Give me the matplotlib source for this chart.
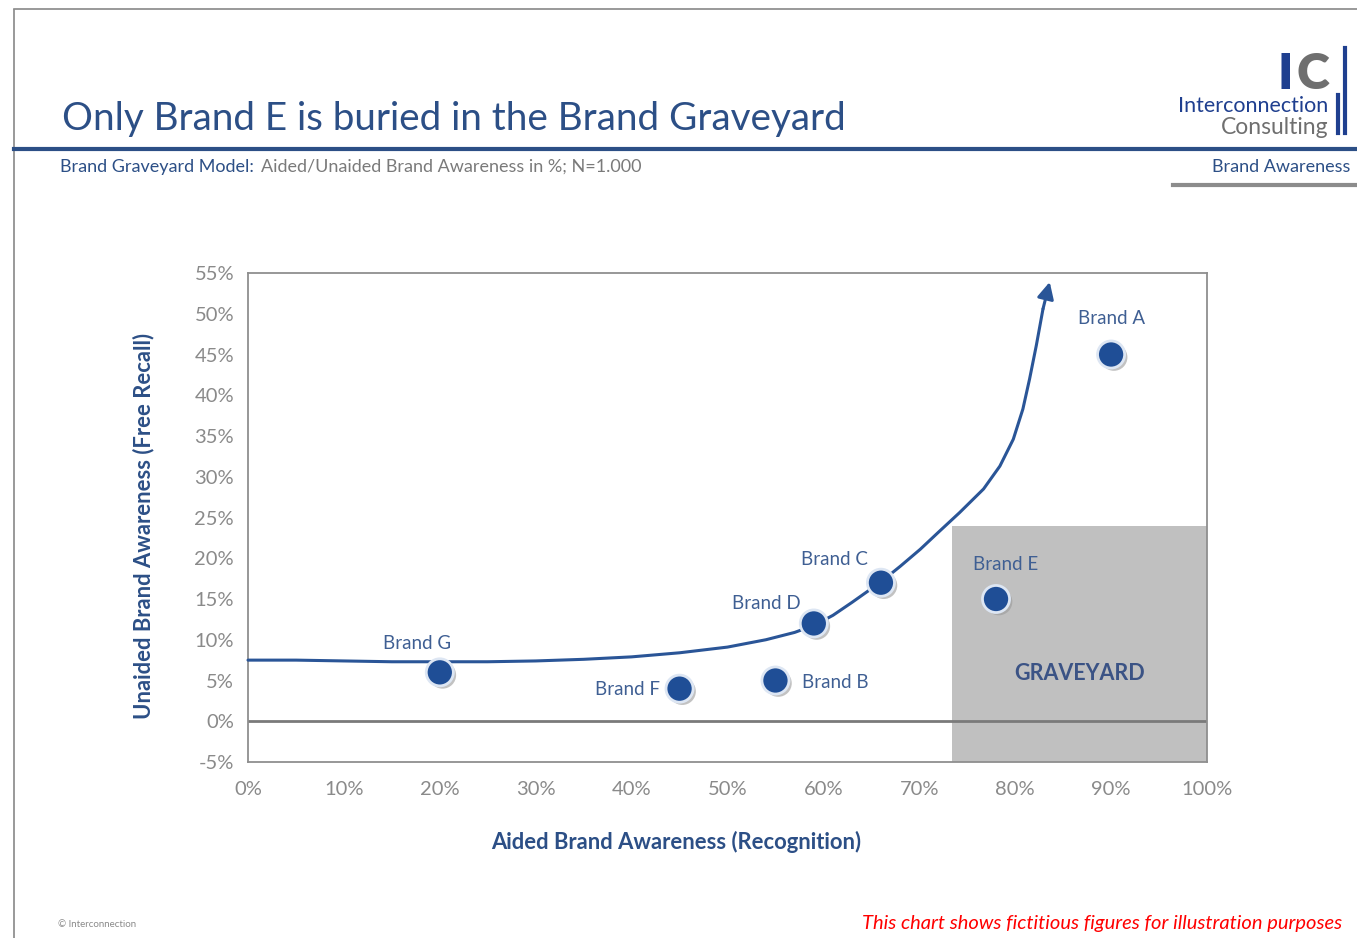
import matplotlib
matplotlib.use("Agg")
import matplotlib.pyplot as plt
import matplotlib.patheffects as pe
from matplotlib.patches import Rectangle
from matplotlib.lines import Line2D

plt.rcParams['font.family'] = ['Lato', 'DejaVu Sans']

# ---- data ----
brands = ["Brand A", "Brand B", "Brand C", "Brand D", "Brand E", "Brand F", "Brand G"]
aided = [90, 55, 66, 59, 78, 45, 20]          # % recognition
unaided = [45, 5, 17, 12, 15, 4, 6]           # % free recall
label_pos = {  # label anchor (x, y, ha)
    "Brand A": (90, 49.4, "center"),
    "Brand B": (57.8, 4.7, "left"),
    "Brand C": (61.2, 19.8, "center"),
    "Brand D": (54.0, 14.4, "center"),
    "Brand E": (79.0, 19.2, "center"),
    "Brand F": (43.0, 3.9, "right"),
    "Brand G": (17.6, 9.5, "center"),
}
curve_x = [0, 5, 10, 15, 20, 25, 30, 35, 40, 45, 50, 54, 57, 59.1, 61, 63, 66, 68,
           70.1, 72, 74.2, 76.7, 78.4, 79.8, 80.8, 81.5, 82.2, 82.9, 83.6]
curve_y = [7.5, 7.5, 7.4, 7.3, 7.3, 7.3, 7.4, 7.6, 7.9, 8.4, 9.1, 10.0, 10.9, 11.8, 13.0,
           14.6, 17.1, 19.0, 21.1, 23.2, 25.6, 28.5, 31.3, 34.6, 38.3, 42.0, 46.1, 50.6, 53.9]
graveyard_x = (73.4, 100)
graveyard_y = (-5, 24)
xticks = list(range(0, 101, 10))
yticks = list(range(-5, 56, 5))

BLUE = "#1f4e96"
TBLUE = "#2c4f86"
LBLUE = "#3f5f93"

W, H = 1357, 938
fig = plt.figure(figsize=(W / 100, H / 100), dpi=100)

def fx(px):
    return px / W

def fy(py):
    return 1 - py / H

# ---- page decoration ----
fig.add_artist(Line2D([fx(14), fx(14)], [fy(10), fy(938)], color="#888888", lw=1.2))
fig.add_artist(Line2D([fx(14), fx(1357)], [fy(9), fy(9)], color="#888888", lw=1.2))
fig.add_artist(Line2D([fx(14), fx(1357)], [fy(149), fy(149)], color=TBLUE, lw=3))
fig.add_artist(Line2D([fx(1173), fx(1357)], [fy(185), fy(185)], color="#8c8c8c", lw=3))

fig.text(fx(62), fy(130), "Only Brand E is buried in the Brand Graveyard",
         fontsize=27.8, color=TBLUE, ha="left", va="baseline")
fig.text(fx(60), fy(172), "Brand Graveyard Model:", fontsize=13, color=TBLUE,
         ha="left", va="baseline")
fig.text(fx(261), fy(172), "Aided/Unaided Brand Awareness in %; N=1.000", fontsize=13,
         color="#7a7a7a", ha="left", va="baseline")
fig.text(fx(1350), fy(172), "Brand Awareness", fontsize=13, color=TBLUE,
         ha="right", va="baseline")

# logo
fig.text(fx(1293), fy(89), "I", fontsize=36, fontweight="heavy", color="#1f3f8f",
         ha="right", va="baseline")
fig.text(fx(1296), fy(89), "C", fontsize=36, fontweight="heavy", color="#6f6f6f",
         ha="left", va="baseline")
fig.add_artist(Line2D([fx(1338), fx(1338)], [fy(95), fy(133)], color="#1f3f8f", lw=3))
fig.add_artist(Line2D([fx(1345), fx(1345)], [fy(48), fy(133)], color="#1f3f8f", lw=3))
fig.text(fx(1328), fy(112), "Interconnection", fontsize=15.5, color="#1f3f8f",
         ha="right", va="baseline")
fig.text(fx(1328), fy(134), "Consulting", fontsize=16.5, color="#6f6f6f",
         ha="right", va="baseline")

# footer
fig.text(fx(58), fy(927), "© Interconnection", fontsize=7, color="#8a8a8a",
         ha="left", va="baseline")
fig.text(fx(1342), fy(929), "This chart shows fictitious figures for illustration purposes",
         fontsize=14.5, color="#ff0000", style="italic", ha="right", va="baseline")

# ---- chart ----
ax = fig.add_axes([fx(248), fy(762), fx(1207) - fx(248), fy(273) - fy(762)])
ax.set_xlim(0, 100)
ax.set_ylim(-5, 55)
for s in ax.spines.values():
    s.set_color("#8f8f8f")
    s.set_linewidth(1.3)
ax.set_xticks(xticks)
ax.set_yticks(yticks)
ax.set_xticklabels([f"{v}%" for v in xticks])
ax.set_yticklabels([f"{v}%" for v in yticks])
ax.tick_params(length=0, labelsize=14.5, colors="#8a8a8a")
ax.tick_params(axis="x", pad=14)
ax.tick_params(axis="y", pad=10)

ax.add_patch(Rectangle((graveyard_x[0], graveyard_y[0]), graveyard_x[1] - graveyard_x[0],
                       graveyard_y[1] - graveyard_y[0], facecolor="#c0c0c0",
                       edgecolor="none", zorder=1, clip_on=False))
ax.axhline(0, color="#7a7a7a", lw=2, zorder=2)
ax.text((graveyard_x[0] + graveyard_x[1]) / 2, 5.8, "GRAVEYARD", fontsize=15.5,
        fontweight="bold", color="#3b5385", ha="center", va="center", zorder=3)

ax.plot(curve_x[:-1], curve_y[:-1], color="#2a5597", lw=2.2, zorder=3,
        solid_capstyle="round", solid_joinstyle="round", clip_on=False)
ax.annotate("", xy=(curve_x[-1], curve_y[-1]), xytext=(curve_x[-2], curve_y[-2]),
            arrowprops=dict(arrowstyle="-|>,head_length=1.0,head_width=0.5",
                            color="#2a5597", lw=2.2, shrinkA=0, shrinkB=0), zorder=3)

ax.scatter(aided, unaided, s=380, color=BLUE, edgecolors="#dde6f3", linewidths=2,
           zorder=5,
           path_effects=[pe.SimplePatchShadow(offset=(2, -2), shadow_rgbFace="#9a9a9a", alpha=0.6),
                         pe.Normal()])

for b in brands:
    x, y, ha = label_pos[b]
    ax.text(x, y, b, fontsize=13.5, color=LBLUE, ha=ha, va="center", zorder=6)

ax.set_xlabel("Aided Brand Awareness (Recognition)", fontsize=15.8, fontweight="bold",
              color=TBLUE)
ax.xaxis.set_label_coords(0.446, -0.14)
ax.set_ylabel("Unaided Brand Awareness (Free Recall)", fontsize=15.8, fontweight="bold",
              color=TBLUE)
ax.yaxis.set_label_coords(-0.098, 0.483)

fig.savefig("out.png", dpi=100)
